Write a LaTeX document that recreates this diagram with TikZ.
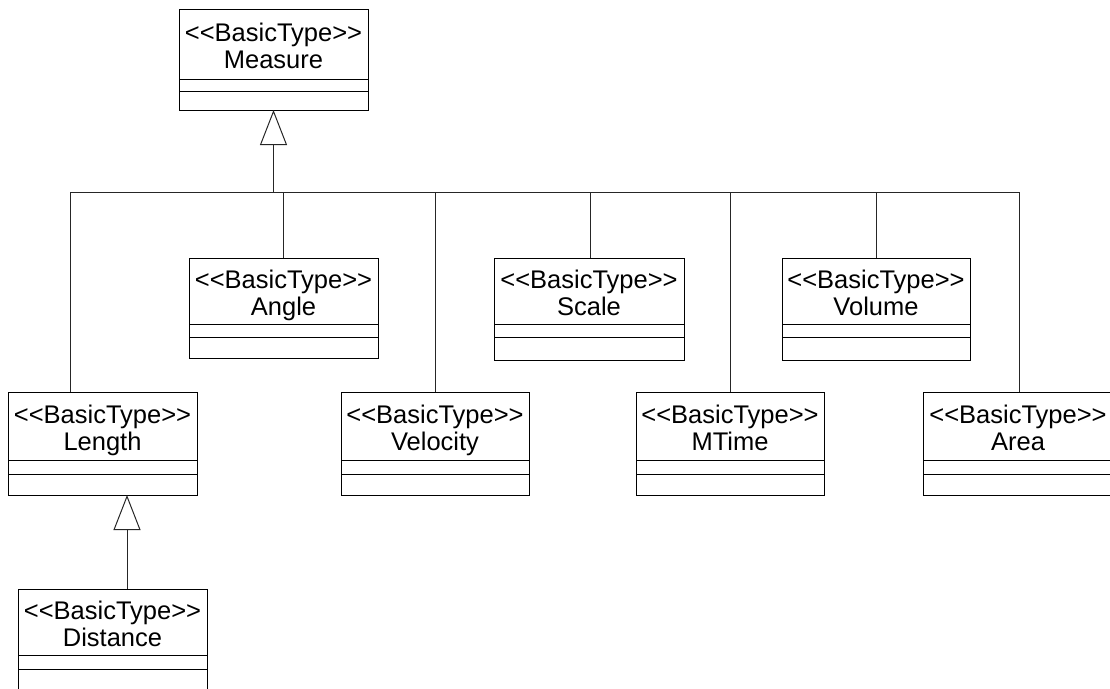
\documentclass[tikz,border=0pt]{standalone}
\usepackage{fontspec}
\setmainfont{Liberation Sans}[Ligatures=TeXOff]
\usetikzlibrary{arrows.meta,calc}
\newcommand{\umlclass}[8]{% name, left, top, right, bottom, sep1, sep2, label
  \node[clsbox, anchor=north west, minimum width={(#4-#2)*1pt}, minimum height={(#5-#3)*1pt}] (#1) at (#2pt,-#3pt) {};
  \draw[sepline] (#2pt,-#6pt) -- (#4pt,-#6pt);
  \draw[sepline] (#2pt,-#7pt) -- (#4pt,-#7pt);
  \node[clstext, anchor=base] (#1-name) at ({(#2+#4)/2*1pt},{-((#3+#6)/2+24.5)*1pt}) {<<BasicType>>\\#8};
}
\begin{document}
\begin{tikzpicture}[
  x=1pt,y=1pt,
  clsbox/.style={draw=black, line width=1pt, rectangle, inner sep=0pt, outer sep=0pt, fill=white},
  sepline/.style={draw=black, line width=1pt},
  clstext/.style={align=center, inner sep=0pt, font=\fontsize{25.5}{27}\selectfont},
  conn/.style={draw=black!85, line width=1pt},
  gen/.style={conn, -{Triangle[open, length=35pt, width=27pt, line width=1pt]}}
]
\useasboundingbox (0,0) rectangle (1110,-688);
\umlclass{measure}{179}{9}{368}{110}{79}{91}{Measure}
\umlclass{angle}{189}{258}{378}{358}{324}{337}{Angle}
\umlclass{scale}{494}{258}{684}{360}{324}{337}{Scale}
\umlclass{volume}{782}{258}{970}{360}{324}{337}{Volume}
\umlclass{length}{8}{392}{197}{495}{460}{474}{Length}
\umlclass{velocity}{341}{392}{529}{495}{460}{474}{Velocity}
\umlclass{mtime}{636}{392}{824}{495}{460}{474}{MTime}
\umlclass{area}{923}{392}{1113}{495}{460.5}{474}{Area}
\umlclass{distance}{18}{589}{207}{700}{655}{669}{Distance}
% bus
\coordinate (bus) at (273.5,-192);
\coordinate (busL) at (70,-192);
\coordinate (busR) at (1019,-192);
\draw[gen] (bus) -- (measure.south);
\draw[conn] (busL) -- (busR);
\draw[conn] (busL) -- ([xshift=62pt]length.north west);
\draw[conn] (angle.north |- bus) -- (angle.north);
\draw[conn] (velocity.north |- bus) -- (velocity.north);
\draw[conn] ([xshift=1.5pt]scale.north |- bus) -- ([xshift=1.5pt]scale.north);
\draw[conn] (mtime.north |- bus) -- (mtime.north);
\draw[conn] (volume.north |- bus) -- (volume.north);
\draw[conn] (busR) -- (busR |- area.north);
% Length <- Distance
\draw[gen] ([xshift=109pt]distance.north west) -- ([xshift=109pt]distance.north west |- length.south);
\end{tikzpicture}
\end{document}
